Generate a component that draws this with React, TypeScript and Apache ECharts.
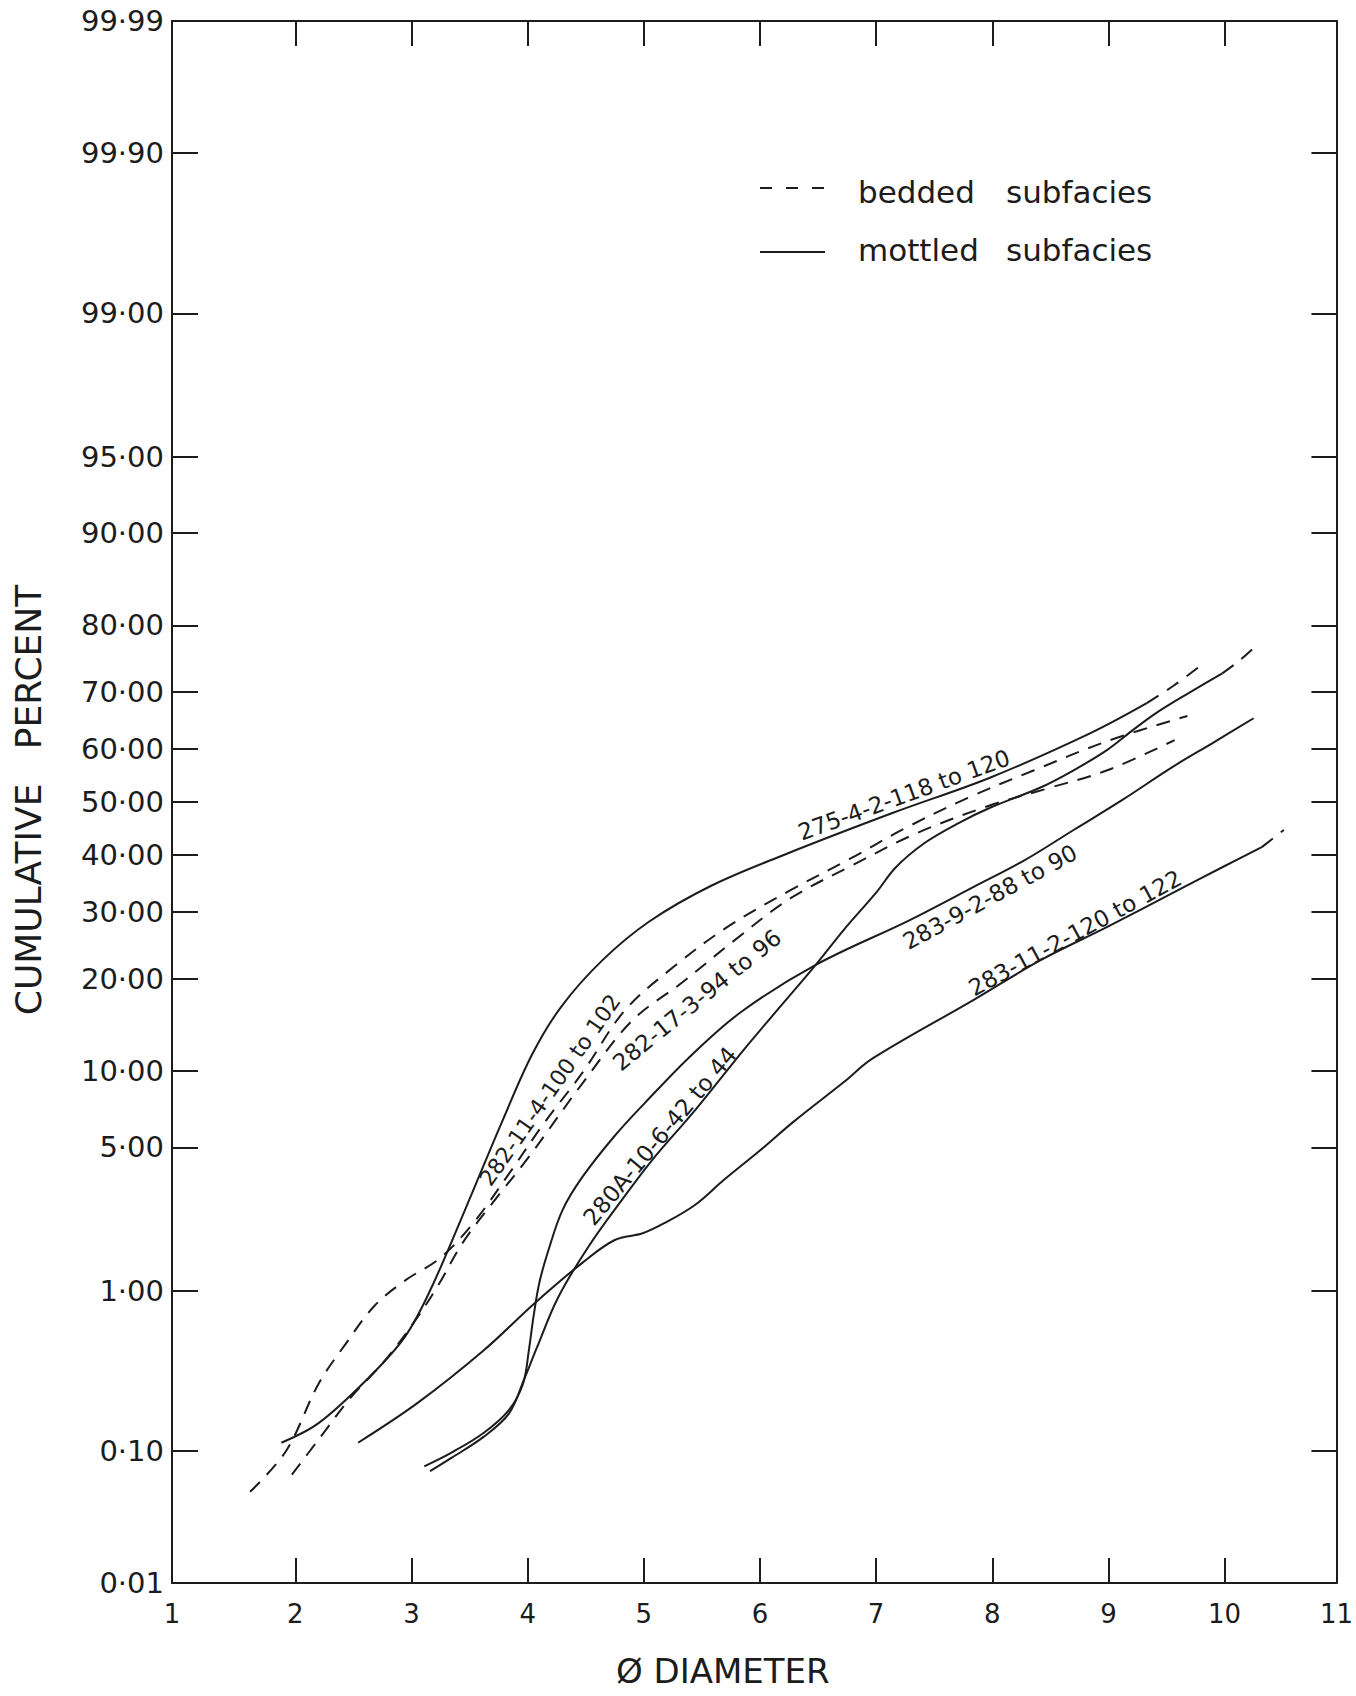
import React, { useEffect, useRef } from "react";
import * as echarts from "echarts";

// ---------- axis ticks ----------
// The printed frame starts a little left of phi 1 and ends a little left of phi 11;
// the draughtsman wrote "1" and "11" at the frame corners.
const X_MIN = 0.938;
const X_MAX = 10.963;
const xTickLabels = [X_MIN, 2, 3, 4, 5, 6, 7, 8, 9, 10, X_MAX];
const xTickMarks = [2, 3, 4, 5, 6, 7, 8, 9, 10];
const yTickPercents = [0.01, 0.1, 1, 5, 10, 20, 30, 40, 50, 60, 70, 80, 90, 95, 99, 99.9, 99.99];
const yTickText = ["0·01", "0·10", "1·00", "5·00", "10·00", "20·00", "30·00", "40·00", "50·00", "60·00", "70·00", "80·00", "90·00", "95·00", "99·00", "99·90", "99·99"];

// ---------- curves (phi diameter, cumulative percent) ----------
// 275-4-2-118 to 120 (mottled)
const phi275 = [1.88, 2.20, 2.62, 2.94, 3.16, 3.46, 3.78, 4.04, 4.29, 4.64, 5.05, 5.58, 6.20, 7.14, 7.99, 8.85, 9.33];
const cum275 = [0.114, 0.155, 0.30, 0.54, 1.0, 2.6, 6.4, 11.5, 16.5, 22.5, 28.5, 34.5, 40.0, 47.9, 54.7, 62.9, 68.1];
const phi275Ext = [9.33, 9.56, 9.78];
const cum275Ext = [68.1, 71.0, 74.0];

// 283-9-2-88 to 90 (mottled)
const phi2839 = [3.11, 3.34, 3.62, 3.84, 3.96, 4.01, 4.05, 4.10, 4.18, 4.30, 4.47, 4.75, 5.01, 5.41, 5.84, 6.48, 7.29, 7.84, 8.28, 8.70, 9.12, 9.55, 9.90, 10.25];
const cum2839 = [0.078, 0.097, 0.133, 0.19, 0.28, 0.45, 0.71, 1.10, 1.65, 2.6, 3.7, 5.6, 7.6, 11.4, 15.9, 21.9, 28.7, 34.3, 39.1, 44.7, 50.4, 56.6, 61.1, 65.5];

// 280A-10-6-42 to 44 (mottled)
const phi280A = [3.16, 3.34, 3.62, 3.84, 3.97, 4.08, 4.26, 4.52, 4.81, 5.07, 5.44, 5.86, 6.20, 6.48, 6.72, 7.00, 7.17, 7.42, 7.71, 7.99, 8.42, 8.70, 8.99, 9.21, 9.41, 9.69, 9.98];
const cum280A = [0.072, 0.089, 0.125, 0.18, 0.30, 0.47, 0.91, 1.70, 2.9, 4.4, 7.1, 11.9, 16.9, 21.9, 27.1, 33.3, 37.8, 42.3, 46.0, 49.0, 52.8, 56.0, 59.8, 63.4, 66.4, 69.8, 73.0];
const phi280AExt = [9.98, 10.13, 10.28];
const cum280AExt = [73.0, 75.0, 77.3];

// 283-11-2-120 to 122 (mottled)
const phi28311 = [2.54, 3.05, 3.62, 4.06, 4.47, 4.75, 4.99, 5.18, 5.44, 5.69, 6.01, 6.29, 6.72, 6.97, 7.84, 8.42, 8.99, 9.55, 9.98, 10.32];
const cum28311 = [0.114, 0.21, 0.45, 0.85, 1.41, 1.85, 2.0, 2.25, 2.75, 3.6, 4.9, 6.4, 9.1, 11.1, 17.3, 22.6, 27.6, 33.2, 37.8, 41.5];
const phi28311Ext = [10.32, 10.51];
const cum28311Ext = [41.5, 44.7];

// 282-11-4-100 to 102 (bedded)
const phi28211 = [1.61, 1.92, 2.20, 2.43, 2.68, 2.94, 3.25, 3.54, 3.84, 4.14, 4.47, 4.84, 5.27, 5.72, 6.26, 6.78, 7.23, 7.79, 8.36, 8.99, 9.68];
const cum28211 = [0.051, 0.10, 0.28, 0.49, 0.82, 1.13, 1.50, 2.28, 3.84, 6.3, 9.85, 16.1, 21.8, 27.6, 33.7, 39.4, 44.8, 50.8, 56.0, 61.4, 65.9];

// 282-17-3-94 to 96 (bedded)
const phi28217 = [1.97, 2.20, 2.48, 2.77, 3.02, 3.23, 3.44, 3.71, 4.01, 4.47, 4.90, 5.33, 5.78, 6.26, 6.80, 7.34, 7.96, 8.48, 8.99, 9.57];
const cum28217 = [0.068, 0.12, 0.23, 0.39, 0.66, 1.07, 1.79, 2.87, 4.55, 9.0, 14.9, 19.5, 25.5, 32.3, 38.2, 44.0, 49.2, 52.6, 56.0, 61.6];

// ---------- probability (probit) scale ----------
function probit(pct: number): number {
  const p = pct / 100;
  const a = [-3.969683028665376e1, 2.209460984245205e2, -2.759285104469687e2, 1.38357751867269e2, -3.066479806614716e1, 2.506628277459239];
  const b = [-5.447609879822406e1, 1.615858368580409e2, -1.556989798598866e2, 6.680131188771972e1, -1.328068155288572e1];
  const c = [-7.784894002430293e-3, -3.223964580411365e-1, -2.400758277161838, -2.54967134808847, 4.374664141464968, 2.938163982698783];
  const d = [7.784695709041462e-3, 3.224671290700398e-1, 2.445134137142996, 3.754408661907416];
  const pl = 0.02425;
  if (p < pl) {
    const q = Math.sqrt(-2 * Math.log(p));
    return (((((c[0] * q + c[1]) * q + c[2]) * q + c[3]) * q + c[4]) * q + c[5]) / ((((d[0] * q + d[1]) * q + d[2]) * q + d[3]) * q + 1);
  }
  if (p > 1 - pl) {
    const q = Math.sqrt(-2 * Math.log(1 - p));
    return -(((((c[0] * q + c[1]) * q + c[2]) * q + c[3]) * q + c[4]) * q + c[5]) / ((((d[0] * q + d[1]) * q + d[2]) * q + d[3]) * q + 1);
  }
  const q = p - 0.5;
  const r = q * q;
  return ((((((a[0] * r + a[1]) * r + a[2]) * r + a[3]) * r + a[4]) * r + a[5]) * q) / (((((b[0] * r + b[1]) * r + b[2]) * r + b[3]) * r + b[4]) * r + 1);
}

const FONT = "'DejaVu Sans', sans-serif";
const INK = "#1c1c1c";
const DASH = [14, 10];

const yTickZ = yTickPercents.map(probit);
const Y_MIN = yTickZ[0];
const Y_MAX = yTickZ[yTickZ.length - 1];

const toData = (xs: number[], ps: number[]) => xs.map((x, i) => [x, probit(ps[i])]);

function lineSeries(id: string, name: string, xs: number[], ps: number[], dashed: boolean) {
  return {
    type: "line",
    id,
    name,
    data: toData(xs, ps),
    smooth: 0.35,
    symbol: "none",
    silent: true,
    xAxisIndex: 0,
    yAxisIndex: 0,
    lineStyle: { color: INK, width: 2, type: dashed ? DASH : "solid" },
    itemStyle: { color: INK },
  };
}

const deg = (d: number) => (d * Math.PI) / 180;

function curveLabel(text: string, x: number, y: number, angle: number, size = 23) {
  return {
    type: "text",
    x,
    y,
    rotation: deg(angle),
    silent: true,
    style: { text, fontSize: size, fontFamily: FONT, fill: INK, align: "center", verticalAlign: "middle" },
  };
}

function plainText(text: string, x: number, y: number, size: number) {
  return {
    type: "text",
    x,
    y,
    silent: true,
    style: { text, fontSize: size, fontFamily: FONT, fill: INK, align: "left", verticalAlign: "middle" },
  };
}

function buildOption() {
  const axisLine = { show: true, onZero: false, lineStyle: { color: INK, width: 2 } };
  const tickStyle = { color: INK, width: 2 };
  const yLabelFmt = (v: number) => {
    let best = 0;
    for (let i = 1; i < yTickZ.length; i++) if (Math.abs(yTickZ[i] - v) < Math.abs(yTickZ[best] - v)) best = i;
    return yTickText[best];
  };
  return {
    animation: false,
    backgroundColor: "#ffffff",
    grid: { left: 172, right: 7, top: 21, bottom: 113, containLabel: false },
    xAxis: [
      {
        type: "value",
        position: "bottom",
        min: X_MIN,
        max: X_MAX,
        axisLine,
        axisTick: { show: true, inside: true, length: 25, customValues: xTickMarks, lineStyle: tickStyle },
        axisLabel: {
          show: true,
          customValues: xTickLabels,
          margin: 18,
          fontSize: 26,
          color: INK,
          fontFamily: FONT,
          showMinLabel: true,
          showMaxLabel: true,
          formatter: (v: number) => String(Math.round(v)),
        },
        splitLine: { show: false },
      },
      {
        type: "value",
        position: "top",
        min: X_MIN,
        max: X_MAX,
        axisLine,
        axisTick: { show: true, inside: true, length: 25, customValues: xTickMarks, lineStyle: tickStyle },
        axisLabel: { show: false },
        splitLine: { show: false },
      },
    ],
    yAxis: [
      {
        type: "value",
        position: "left",
        min: Y_MIN,
        max: Y_MAX,
        axisLine,
        axisTick: { show: true, inside: true, length: 26, customValues: yTickZ.slice(1, -1), lineStyle: tickStyle },
        axisLabel: {
          show: true,
          customValues: yTickZ,
          margin: 8,
          fontSize: 29,
          color: INK,
          fontFamily: FONT,
          formatter: yLabelFmt,
          showMinLabel: true,
          showMaxLabel: true,
        },
        splitLine: { show: false },
      },
      {
        type: "value",
        position: "right",
        min: Y_MIN,
        max: Y_MAX,
        axisLine,
        axisTick: { show: true, inside: true, length: 25, customValues: yTickZ.slice(1, -1), lineStyle: tickStyle },
        axisLabel: { show: false },
        splitLine: { show: false },
      },
    ],
    series: [
      lineSeries("275-4-2-118 to 120", "mottled subfacies", phi275, cum275, false),
      lineSeries("275-4-2-118 to 120 extrapolated", "275-4-2 (extrapolated)", phi275Ext, cum275Ext, true),
      lineSeries("283-9-2-88 to 90", "mottled subfacies", phi2839, cum2839, false),
      lineSeries("280A-10-6-42 to 44", "mottled subfacies", phi280A, cum280A, false),
      lineSeries("280A-10-6-42 to 44 extrapolated", "280A-10-6 (extrapolated)", phi280AExt, cum280AExt, true),
      lineSeries("283-11-2-120 to 122", "mottled subfacies", phi28311, cum28311, false),
      lineSeries("283-11-2-120 to 122 extrapolated", "283-11-2 (extrapolated)", phi28311Ext, cum28311Ext, true),
      lineSeries("282-11-4-100 to 102", "bedded subfacies", phi28211, cum28211, true),
      lineSeries("282-17-3-94 to 96", "bedded subfacies", phi28217, cum28217, true),
    ],
    graphic: [
      // key
      { type: "line", silent: true, shape: { x1: 760, y1: 188, x2: 827, y2: 188 }, style: { stroke: INK, lineWidth: 2, lineDash: [12, 14] } },
      { type: "line", silent: true, shape: { x1: 760, y1: 252, x2: 825, y2: 252 }, style: { stroke: INK, lineWidth: 2 } },
      plainText("bedded", 858, 192, 31),
      plainText("subfacies", 1006, 192, 31),
      plainText("mottled", 858, 250, 31),
      plainText("subfacies", 1006, 250, 31),
      // curve labels
      curveLabel("275-4-2-118 to 120", 904, 795, 20),
      curveLabel("282-11-4-100 to 102", 550, 1090, 55, 22),
      curveLabel("282-17-3-94 to 96", 697, 1000, 39),
      curveLabel("280A-10-6-42 to 44", 660, 1136, 50),
      curveLabel("283-9-2-88 to 90", 990, 897, 28.5),
      curveLabel("283-11-2-120 to 122", 1075, 933, 28.5),
      // axis titles
      {
        type: "text",
        x: 28,
        y: 800,
        rotation: Math.PI / 2,
        silent: true,
        style: { text: "CUMULATIVE   PERCENT", fontSize: 36, fontFamily: FONT, fill: INK, align: "center", verticalAlign: "middle" },
      },
      plainText("Ø DIAMETER", 616, 1671, 34),
    ],
  };
}

export default function App() {
  const ref = useRef<HTMLDivElement>(null);
  useEffect(() => {
    document.body.style.margin = "0";
    if (!ref.current) return;
    const chart = echarts.init(ref.current, null, { renderer: "svg" });
    chart.setOption(buildOption() as any);
    return () => chart.dispose();
  }, []);
  return <div ref={ref} style={{ width: 1356, height: 1696, background: "#ffffff" }} />;
}
